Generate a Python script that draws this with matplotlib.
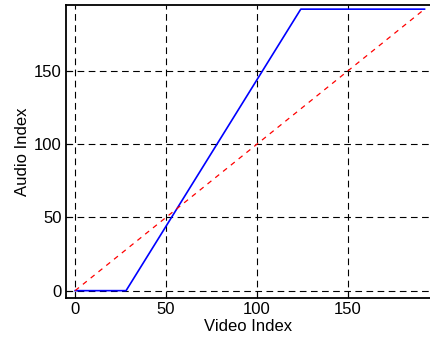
import matplotlib.pyplot as plt

plt.rcParams['font.family'] = ['Liberation Sans', 'DejaVu Sans']

# mapping curve (video index -> audio index), piecewise
video_idx = [0, 28, 124, 192]
audio_idx = [0, 0, 192, 192]

# reference diagonal
diag_x = [0, 192]
diag_y = [0, 192]

ticks = [0, 50, 100, 150]

fig = plt.figure(figsize=(4.3, 3.39), dpi=100)
ax = fig.add_axes([0.1535, 0.121, 0.8465, 0.865])

ax.plot(video_idx, audio_idx, color='blue', lw=1.2)
ax.plot(diag_x, diag_y, color='red', lw=0.9, dashes=(4, 4))

ax.set_xlim(-5, 195)
ax.set_ylim(-5, 195)
ax.set_xticks(ticks)
ax.set_yticks(ticks)
ax.grid(True, color='black', lw=0.8, dashes=(6, 4))
ax.tick_params(direction='in', length=4, labelsize=12, pad=3)
ax.spines['right'].set_visible(False)
for s in ['left', 'bottom', 'top']:
    ax.spines[s].set_linewidth(1.3)

ax.set_xlabel('Video Index', fontsize=12, labelpad=1)
ax.set_ylabel('Audio Index', fontsize=12, labelpad=3)

fig.savefig('out.png', dpi=100)
